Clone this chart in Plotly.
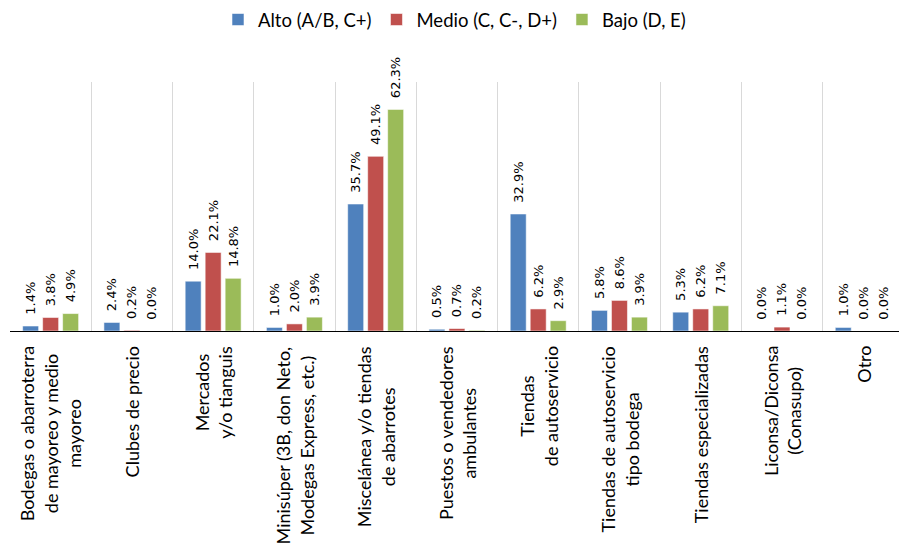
import plotly.graph_objects as go

# Channel categories (line breaks as they appear under the axis)
categories = [
    "Bodegas o abarroterra<br>de mayoreo y medio<br>mayoreo",
    "Clubes de precio",
    "Mercados<br>y/o tianguis",
    "Minisúper (3B, don Neto,<br>Modegas Express, etc.)",
    "Miscelánea y/o tiendas<br>de abarrotes",
    "Puestos o vendedores<br>ambulantes",
    "Tiendas<br>de autoservicio",
    "Tiendas de autoservicio<br>tipo bodega",
    "Tiendas especializadas",
    "Liconsa/Diconsa<br>(Conasupo)",
    "Otro",
]

series_names = ["Alto (A/B, C+)", "Medio (C, C-, D+)", "Bajo (D, E)"]

alto = [1.4, 2.4, 14.0, 1.0, 35.7, 0.5, 32.9, 5.8, 5.3, 0.0, 1.0]
medio = [3.8, 0.2, 22.1, 2.0, 49.1, 0.7, 6.2, 8.6, 6.2, 1.1, 0.0]
bajo = [4.9, 0.0, 14.8, 3.9, 62.3, 0.2, 2.9, 3.9, 7.1, 0.0, 0.0]

colors = ["#4F81BD", "#C0504D", "#9BBB59"]

LABEL_FONT = "Lato, 'Open Sans', sans-serif"

fig = go.Figure()
for name, values, color in zip(series_names, [alto, medio, bajo], colors):
    fig.add_trace(go.Bar(
        x=categories,
        y=values,
        name=name,
        marker=dict(color=color, line=dict(color="rgba(255,255,255,0.55)", width=1)),
        texttemplate="\u00a0\u00a0%{y:.1f}%",
        textposition="outside",
        textangle=-90,
        constraintext="none",
        cliponaxis=False,
        textfont=dict(family="DejaVu Sans", size=13, color="#000000"),
        hoverinfo="skip",
    ))

# Category labels, rotated and centred line by line under each group
for cat in categories:
    fig.add_annotation(
        x=cat, y=0, xref="x", yref="paper",
        yanchor="top", xanchor="center", yshift=-13,
        text=cat, textangle=-90, align="center", showarrow=False,
        font=dict(family=LABEL_FONT, size=18, color="#000000"),
    )

fig.update_layout(
    width=899, height=548,
    margin=dict(l=10, r=0, t=82, b=217),
    paper_bgcolor="white", plot_bgcolor="white",
    barmode="group", bargap=0.262, bargroupgap=0.2,
    showlegend=True,
    legend=dict(
        orientation="h", x=0.5, xanchor="center", y=1.249, yanchor="middle",
        font=dict(family=LABEL_FONT, size=18.5, color="#000000"),
        itemclick=False, itemdoubleclick=False,
    ),
    xaxis=dict(
        type="category", range=[-0.5, 10.44],
        showticklabels=False, ticks="",
        tickson="boundaries", showgrid=True, gridcolor="#D9D9D9", gridwidth=1,
        showline=True, linecolor="#000000", linewidth=1,
        fixedrange=True,
    ),
    yaxis=dict(
        range=[0, 70], visible=False, showgrid=False, zeroline=False,
        fixedrange=True,
    ),
)

fig.write_html("out.html")
